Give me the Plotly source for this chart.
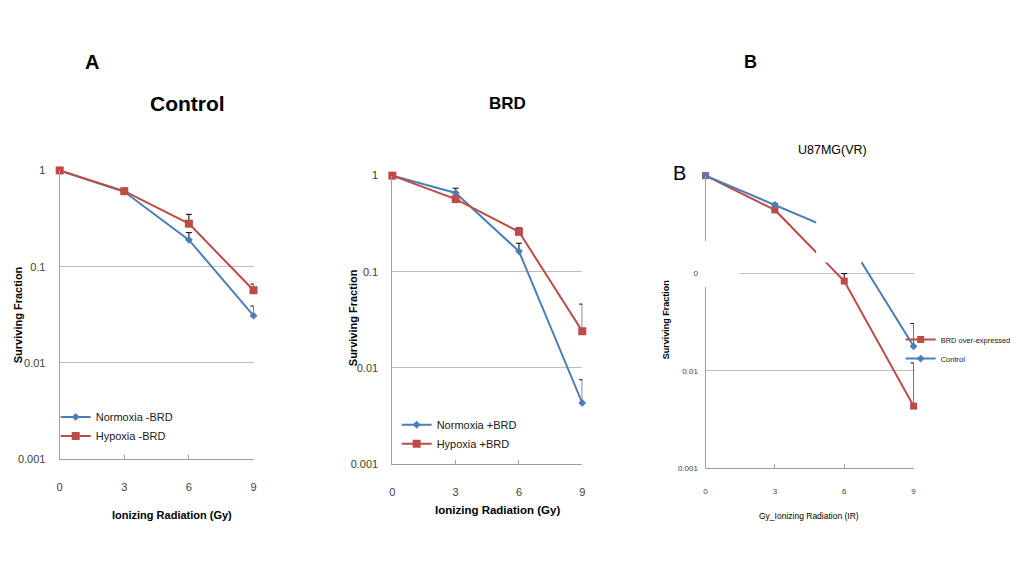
import plotly.graph_objects as go

W, H = 1016, 567

# ---------------- data ----------------
dose = [0, 3, 6, 9]
dose_ticks = ["0", "3", "6", "9"]

ctrl_normoxia = [1.0, 0.60, 0.19, 0.031]
ctrl_normoxia_err = [0, 0.04, 0.036, 0.008]
ctrl_hypoxia = [1.0, 0.61, 0.28, 0.057]
ctrl_hypoxia_err = [0, 0.04, 0.07, 0.009]

brd_normoxia = [1.0, 0.66, 0.163, 0.0043]
brd_normoxia_err = [0, 0.08, 0.035, 0.0032]
brd_hypoxia = [1.0, 0.57, 0.26, 0.024]
brd_hypoxia_err = [0, 0.02, 0.026, 0.022]

u87_over = [1.0, 0.445, 0.083, 0.00434]
u87_over_err = [0, 0, 0.016, 0.0077]
u87_control = [1.0, 0.50, 0.25, 0.0178]
u87_control_err = [0, 0.02, 0, 0.0127]

y_tickvals = [0.001, 0.01, 0.1, 1]
y_ticktext = ["0.001", "0.01", "0.1", "1"]
y_ticktext_b = ["0.001", "0.01", "0", ""]

BLUE = "#4A7EBB"
RED = "#BE4B48"
SANS = "Liberation Sans, Arial, sans-serif"


def px(x):
    return x / W


def py(y):
    return 1 - y / H


fig = go.Figure()


def add_series(x, y, err, name, color, symbol, size, xa, ya, legend):
    fig.add_trace(go.Scatter(
        x=x, y=y, name=name, mode="lines+markers",
        line=dict(color=color, width=2),
        marker=dict(color=color, symbol=symbol, size=size),
        error_y=dict(type="data", symmetric=False, array=err,
                     arrayminus=[0] * len(err), color="black",
                     thickness=1, width=3),
        cliponaxis=False, xaxis=xa, yaxis=ya, legend=legend,
    ))


add_series(dose, ctrl_normoxia, ctrl_normoxia_err, "Normoxia -BRD", BLUE, "diamond", 6, "x", "y", "legend")
add_series(dose, ctrl_hypoxia, ctrl_hypoxia_err, "Hypoxia -BRD", RED, "square", 8, "x", "y", "legend")
add_series(dose, brd_normoxia, brd_normoxia_err, "Normoxia +BRD", BLUE, "diamond", 6, "x2", "y2", "legend2")
add_series(dose, brd_hypoxia, brd_hypoxia_err, "Hypoxia +BRD", RED, "square", 8, "x2", "y2", "legend2")
add_series(dose, u87_over, u87_over_err, "BRD over-expressed", RED, "square", 7, "x3", "y3", "legend3")
add_series(dose, u87_control, u87_control_err, "Control", BLUE, "diamond", 6, "x3", "y3", "legend3")


def xaxis(domain, anchor, standoff, size):
    return dict(domain=domain, anchor=anchor, range=[0, 9],
                tickvals=dose, ticktext=dose_ticks,
                showgrid=False, zeroline=False,
                showline=True, linecolor="#A0A0A0", linewidth=1,
                ticks="inside", ticklen=4, tickcolor="#A0A0A0",
                ticklabelstandoff=standoff,
                tickfont=dict(size=size, color="#404040", family=SANS))


def yaxis(domain, anchor, ticktext, standoff, size):
    return dict(domain=domain, anchor=anchor, type="log", range=[-3, 0],
                tickvals=y_tickvals, ticktext=ticktext,
                showgrid=True, gridcolor="#BDBDBD", gridwidth=1,
                zeroline=False, showline=True, linecolor="#A0A0A0",
                linewidth=1, ticks="",
                ticklabelstandoff=standoff,
                tickfont=dict(size=size, color="#404040", family=SANS))


fig.update_layout(
    width=W, height=H,
    margin=dict(l=0, r=0, t=0, b=0),
    paper_bgcolor="white", plot_bgcolor="white",
    xaxis=xaxis([px(57), px(252)], "y", 18, 11),
    yaxis=yaxis([py(463), py(168)], "x", y_ticktext, 11, 11),
    xaxis2=xaxis([px(391.7), px(582.7)], "y2", 18, 11),
    yaxis2=yaxis([py(467.7), py(173.3)], "x2", y_ticktext, 11, 11),
    xaxis3=xaxis([px(706.7), px(916)], "y3", 15, 8),
    yaxis3=yaxis([py(472.3), py(173.3)], "x3", y_ticktext_b, 5, 8),
    legend=dict(x=px(53), y=py(405), xanchor="left", yanchor="top",
                bgcolor="rgba(0,0,0,0)", font=dict(size=11, color="#202020", family=SANS),
                tracegroupgap=0, itemwidth=30),
    legend2=dict(x=px(396), y=py(413), xanchor="left", yanchor="top",
                 bgcolor="rgba(0,0,0,0)", font=dict(size=11, color="#202020", family=SANS),
                 tracegroupgap=0, itemwidth=30),
    legend3=dict(x=px(903), y=py(326), xanchor="left", yanchor="top",
                 bgcolor="rgba(0,0,0,0)", font=dict(size=7.5, color="#202020", family=SANS),
                 tracegroupgap=0, itemwidth=30),
    showlegend=True,
)

annotations = [
    dict(text="<b>A</b>", x=px(90), y=py(57), font=dict(size=20)),
    dict(text="<b>B</b>", x=px(752), y=py(57), font=dict(size=18)),
    dict(text="<b>Control</b>", x=px(186), y=py(100), font=dict(size=21)),
    dict(text="<b>BRD</b>", x=px(507), y=py(100), font=dict(size=17)),
    dict(text="U87MG(VR)", x=px(834), y=py(147), font=dict(size=12.5)),
    dict(text="B", x=px(681), y=py(171), font=dict(size=20)),
    dict(text="<b>Surviving Fraction</b>", x=px(15), y=py(315), textangle=-90,
         font=dict(size=11)),
    dict(text="<b>Surviving Fraction</b>", x=px(352), y=py(318), textangle=-90,
         font=dict(size=11)),
    dict(text="<b>Surviving Fraction</b>", x=px(667), y=py(321), textangle=-90,
         font=dict(size=9)),
    dict(text="<b>Ionizing Radiation (Gy)</b>", x=px(170), y=py(520),
         font=dict(size=11)),
    dict(text="<b>Ionizing Radiation (Gy)</b>", x=px(497), y=py(515),
         font=dict(size=11.5)),
    dict(text="Gy_Ionizing Radiation (IR)", x=px(811), y=py(521),
         font=dict(size=8.5)),
]
for a in annotations:
    a["xref"] = "paper"
    a["yref"] = "paper"
    a["xanchor"] = "center"
    a["yanchor"] = "middle"
    a["showarrow"] = False
    a["font"]["color"] = "black"
    a["font"]["family"] = SANS
fig.update_layout(annotations=annotations)

# white patches present in the original image of panel B
fig.update_layout(shapes=[
    dict(type="rect", xref="paper", yref="paper", x0=px(818), x1=px(864),
         y0=py(262), y1=py(212), fillcolor="white", line=dict(width=0), layer="above"),
    dict(type="rect", xref="paper", yref="paper", x0=px(700), x1=px(741),
         y0=py(287), y1=py(240), fillcolor="white", line=dict(width=0), layer="above"),
])

POST = """
var gd = document.getElementById('{plot_id}');
document.documentElement.style.cssText = 'margin:0;padding:0;overflow:hidden;background:white;';
document.body.style.cssText = 'margin:0;padding:0;overflow:hidden;background:white;';
gd.style.position = 'fixed';
gd.style.left = '0px';
gd.style.top = '0px';
var vw = window.innerWidth, vh = window.innerHeight;
if (vw > 200 && vh > 200) {
  gd.style.transformOrigin = '0 0';
  gd.style.transform = 'scale(' + (vw / 1016) + ',' + (vh / 567) + ')';
}
"""

fig.write_html(
    "out.html",
    config={"displayModeBar": False},
    post_script=POST,
)
